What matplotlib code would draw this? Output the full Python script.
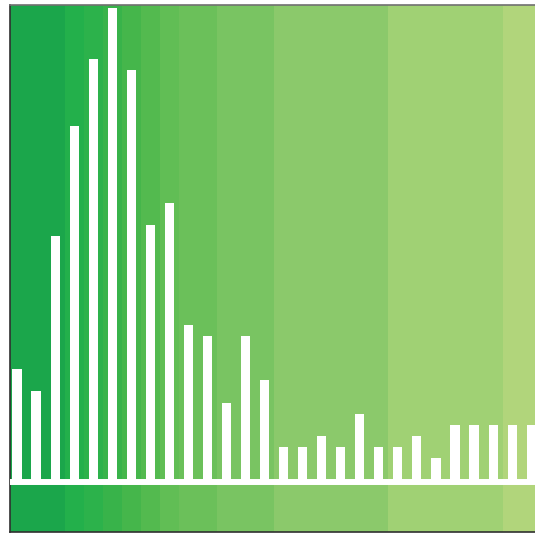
import numpy as np
import matplotlib
matplotlib.use('Agg')
from matplotlib import pyplot as plt

# bar heights, left to right
values = [10, 8, 22, 32, 38, 42.6, 37, 23, 25, 14, 13, 7, 13, 9,
          3, 3, 4, 3, 6, 3, 3, 4, 2, 5, 5, 5, 5, 5]

# background bands (edges in bar-index units) and their greens
band_edges = [-1, 2.5, 3.5, 4.5, 5.5, 6.5, 7.5, 8.5, 10.5, 13.5, 19.5, 25.5, 28]
band_colors = ['#1ba64b', '#23b04b', '#2cb24b', '#38b34a', '#45b64b', '#53ba4f',
               '#61be55', '#6bc05a', '#79c462', '#8bc96b', '#a0d174', '#b1d57b']

fig = plt.figure(figsize=(5.35, 5.34), dpi=100)
ax = fig.add_axes([9.5/535, 2.5/534, 1 - 9.5/535, (531.5 - 4.5)/534])

for i in range(len(band_colors)):
    ax.axvspan(band_edges[i], band_edges[i+1], color=band_colors[i], lw=0, zorder=0)

x = np.arange(len(values))
ax.bar(x, values, width=0.48, color='white', zorder=2)
ax.axhline(-0.2, color='white', lw=4.3, zorder=3)

ax.set_xlim(-0.394, 27.2)
ax.set_ylim(-4.65, 42.95)
ax.set_xticks([]), ax.set_yticks([])

ax.spines['right'].set_visible(False)
ax.spines['top'].set_color('#707070')
ax.spines['left'].set_color('#303030')
ax.spines['bottom'].set_color('#303030')
for s in ['top', 'left', 'bottom']:
    ax.spines[s].set_linewidth(1.2)

fig.savefig('out.png', dpi=100)
